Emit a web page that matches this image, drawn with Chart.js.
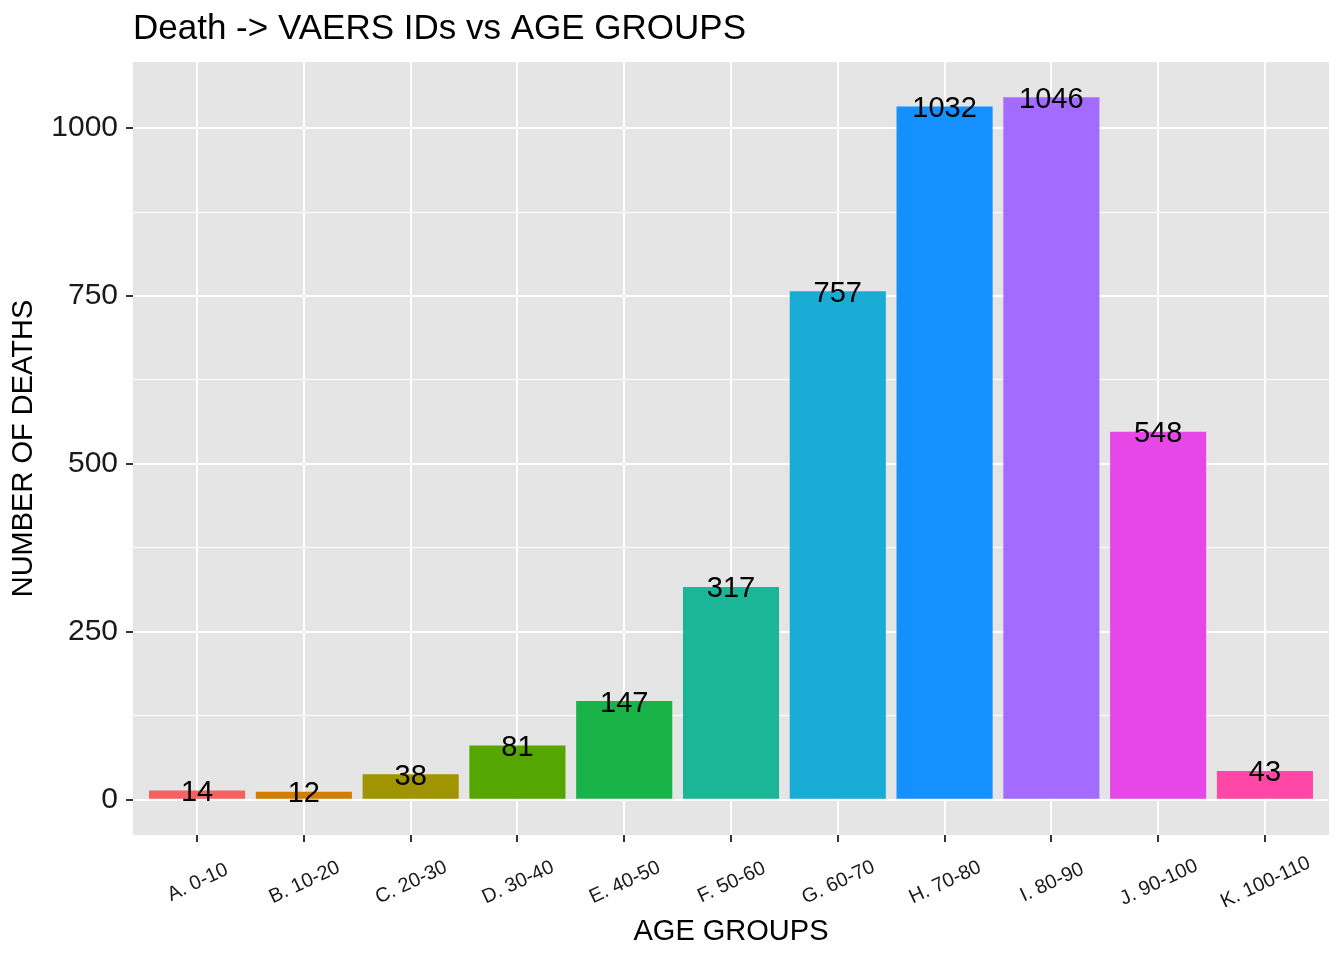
<!DOCTYPE html>
<html>
<head>
<meta charset="utf-8">
<script src="https://cdn.jsdelivr.net/npm/chart.js@4"></script>
<style>
  html, body { margin: 0; padding: 0; background: #fff; }
  #wrap { width: 1344px; height: 960px; }
</style>
</head>
<body>
<div id="wrap"><canvas id="deathChart"></canvas></div>
<script>
// Altersgruppen und Anzahl Todesfälle
const ageGroups = ['A. 0-10', 'B. 10-20', 'C. 20-30', 'D. 30-40', 'E. 40-50', 'F. 50-60',
                   'G. 60-70', 'H. 70-80', 'I. 80-90', 'J. 90-100', 'K. 100-110'];
const deaths = [14, 12, 38, 81, 147, 317, 757, 1032, 1046, 548, 43];
const barColors = ['#F46262', '#D17E00', '#A09400', '#55A700', '#1AB34A', '#1AB697',
                   '#19ACD4', '#1490FF', '#A36BFF', '#E647E6', '#FF48A5'];
const yTicks = [0, 250, 500, 750, 1000];

const chartTitle = 'Death -> VAERS IDs vs AGE GROUPS';
const FONT = '"Liberation Sans", Arial, sans-serif';

// grauer Hintergrund, Titel, Balkenwerte und gedrehte x-Beschriftungen
const ggPlugin = {
    id: 'ggStyle',
    beforeDraw(chart) {
        const { ctx, chartArea: a } = chart;
        ctx.save();
        ctx.fillStyle = '#E5E5E5';
        ctx.fillRect(a.left, a.top, a.right - a.left, a.bottom - a.top);
        ctx.restore();
    },
    afterDatasetsDraw(chart) {
        const { ctx, chartArea: a } = chart;
        const meta = chart.getDatasetMeta(0);
        ctx.save();
        ctx.fillStyle = '#000';
        ctx.font = '29px ' + FONT;
        ctx.textAlign = 'center';
        ctx.textBaseline = 'alphabetic';
        meta.data.forEach((bar, i) => {
            ctx.fillText(String(deaths[i]), bar.x, bar.y + 29 * 0.36);
        });

        // Titel
        ctx.font = '35px ' + FONT;
        ctx.textAlign = 'left';
        ctx.fillText(chartTitle, a.left, 39);

        // x-Achsen Beschriftung, 25 Grad gedreht
        const xScale = chart.scales.x;
        ctx.fillStyle = '#1A1A1A';
        ctx.font = '20px ' + FONT;
        ctx.textAlign = 'center';
        ageGroups.forEach((label, i) => {
            ctx.save();
            ctx.translate(xScale.getPixelForValue(i), 881);
            ctx.rotate(-25 * Math.PI / 180);
            ctx.fillText(label, 0, 20 * 0.36);
            ctx.restore();
        });
        ctx.restore();
    }
};

const ctx = document.getElementById('deathChart').getContext('2d');
new Chart(ctx, {
    type: 'bar',
    data: {
        datasets: [{
            data: deaths.map((v, i) => ({ x: i, y: v })),
            backgroundColor: barColors,
            borderWidth: 0,
            barPercentage: 0.9,
            categoryPercentage: 1
        }]
    },
    options: {
        responsive: true,
        maintainAspectRatio: false,
        animation: false,
        layout: { padding: { left: 0, right: 15, top: 62, bottom: 0 } },
        plugins: {
            legend: { display: false },
            tooltip: { enabled: false }
        },
        scales: {
            x: {
                type: 'linear',
                min: -0.6,
                max: 10.6,
                offset: false,
                afterBuildTicks: (scale) => {
                    scale.ticks = ageGroups.map((g, i) => ({ value: i }));
                },
                afterFit: (scale) => { scale.height = 125; },
                ticks: { display: false },
                grid: {
                    offset: false,
                    color: '#FFFFFF',
                    lineWidth: 2,
                    tickColor: '#333333',
                    tickLength: 7,
                    tickWidth: 2
                },
                border: { display: false },
                title: {
                    display: true,
                    text: 'AGE GROUPS',
                    color: '#000',
                    font: { family: FONT, size: 29 },
                    padding: { top: 0, bottom: 11 }
                }
            },
            y: {
                min: -52.3,
                max: 1098.3,
                afterBuildTicks: (scale) => {
                    // Haupt- und Nebenlinien wie ggplot
                    const t = [];
                    for (let v = 0; v <= 1000; v += 125) t.push({ value: v });
                    scale.ticks = t;
                },
                afterFit: (scale) => { scale.width = 133; },
                ticks: {
                    color: '#1A1A1A',
                    font: { family: FONT, size: 30 },
                    padding: 8,
                    callback: (v) => yTicks.includes(v) ? String(v) : ''
                },
                grid: {
                    color: '#FFFFFF',
                    lineWidth: (c) => (c.tick && c.tick.value % 250 === 0) ? 2 : 1,
                    tickColor: (c) => (c.tick && c.tick.value % 250 === 0) ? '#333333' : 'rgba(0,0,0,0)',
                    tickLength: 7,
                    tickWidth: 2
                },
                border: { display: false },
                title: {
                    display: true,
                    text: 'NUMBER OF DEATHS',
                    color: '#000',
                    font: { family: FONT, size: 29 },
                    padding: { top: 7, bottom: 0 }
                }
            }
        }
    },
    plugins: [ggPlugin]
});
</script>
</body>
</html>
